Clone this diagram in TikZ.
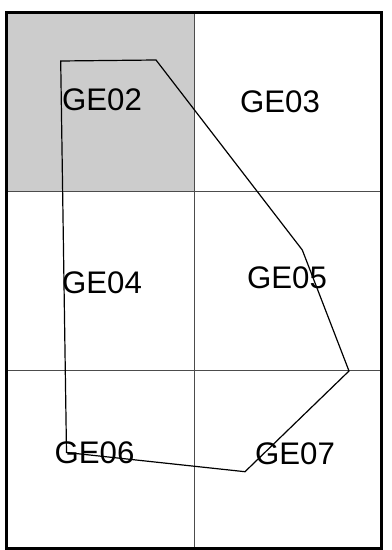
\documentclass[tikz,border=0pt]{standalone}
\usepackage{fontspec}
\setmainfont{Liberation Sans}

\begin{document}
\begin{tikzpicture}[x=0.5pt,y=-0.5pt,line join=miter,
  lbl/.style={font=\fontsize{15.6}{18}\selectfont,inner sep=0pt},
  gridln/.style={black!70,line width=0.5pt}]
\useasboundingbox (0,0) rectangle (391,550);
\fill[gray!40] (6.5,12.5) rectangle (194,191.5);
\draw[gridln] (194,12.5) -- (194,548.5);
\draw[gridln] (6.5,191.5) -- (381,191.5);
\draw[gridln] (6.5,370.5) -- (381,370.5);
\draw[line width=1.5pt] (6.5,12.5) rectangle (381,548.5);
% outline
\coordinate (p1) at (60.7,61);
\coordinate (p2) at (156,60);
\coordinate (p3) at (302.3,250);
\coordinate (p4) at (349,371);
\coordinate (p5) at (245,471.7);
\coordinate (p6) at (66.5,452.5);
\draw[line width=0.6pt] (p1) -- (p2) -- (p3) -- (p4) -- (p5) -- (p6) -- cycle;
\node[lbl] (ge02) at (102,100) {GE02};
\node[lbl] (ge03) at (280,102) {GE03};
\node[lbl] (ge04) at (102,283) {GE04};
\node[lbl] (ge05) at (287,278) {GE05};
\node[lbl] (ge06) at (94.5,453) {GE06};
\node[lbl] (ge07) at (295,454) {GE07};
\end{tikzpicture}
\end{document}
